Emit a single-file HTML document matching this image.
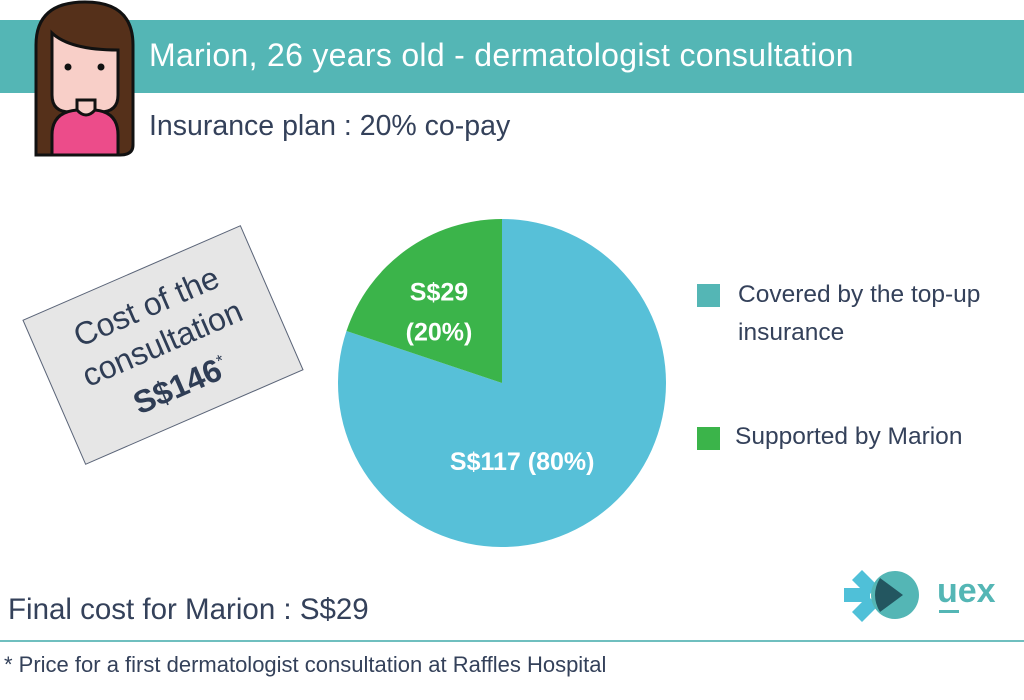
<!DOCTYPE html>
<html><head><meta charset="utf-8"><style>
body{margin:0;width:1024px;height:700px;background:#fff;overflow:hidden;position:relative;font-family:"Liberation Sans",sans-serif}
.abs{position:absolute}
</style></head><body>
<div class="abs" style="left:0;top:20px;width:1024px;height:73px;background:#54b6b5"></div>
<div class="abs" style="left:149px;top:37px;font-size:32px;color:#fff;white-space:nowrap;letter-spacing:0.3px">Marion, 26 years old - dermatologist consultation</div>
<div class="abs" style="left:149px;top:110px;font-size:28.5px;color:#34415a;white-space:nowrap">Insurance plan : 20% co-pay</div>
<svg class="abs" style="left:0;top:0" width="140" height="160">
<path d="M36,155 V45 Q36,2 85,2 Q133,2 133,45 V145 Q133,155 120,155 Z" fill="#55301a" stroke="#111" stroke-width="3"/>
<path d="M52,33 Q70,50 118,50 V95 Q118,112 100,112 H70 Q52,112 52,95 Z" fill="#f8cfc8" stroke="#111" stroke-width="3"/>
<rect x="77" y="100" width="18" height="18" fill="#f8cfc8" stroke="#111" stroke-width="3"/>
<path d="M52,155 V135 Q52,112 77,110 Q86,120 95,110 Q118,112 118,135 V155 Z" fill="#ec4c8a" stroke="#111" stroke-width="3"/>
<circle cx="68" cy="67" r="3.5" fill="#111"/><circle cx="101" cy="67" r="3.5" fill="#111"/>
</svg>
<div class="abs" style="left:44px;top:266px;width:238px;height:158px;background:#e6e6e6;border:1px solid #5a6478;transform:rotate(-23.5deg);box-sizing:border-box;text-align:center;color:#2f3d55;font-size:32px;line-height:40px;padding-top:16px">Cost of the<br>consultation<br><b>S$146</b><sup style="font-size:17px">*</sup></div>
<svg class="abs" style="left:0;top:0" width="1024" height="700" id="pie"></svg>
<div class="abs" style="left:697px;top:281px">
<div style="position:absolute;left:0;top:3px;width:23px;height:23px;background:#54b6b5"></div>
<div style="position:absolute;left:41px;top:-5px;font-size:24.5px;line-height:38px;color:#34415a;width:290px">Covered by the top-up<br>insurance</div></div>
<div class="abs" style="left:697px;top:425px">
<div style="position:absolute;left:0;top:2px;width:23px;height:23px;background:#3bb44a"></div>
<div style="position:absolute;left:38px;top:-2px;font-size:24.5px;color:#34415a;white-space:nowrap">Supported by Marion</div></div>
<div class="abs" style="left:8px;top:593px;font-size:29.5px;color:#34415a;white-space:nowrap">Final cost for Marion : S$29</div>
<svg class="abs" style="left:840px;top:560px" width="180" height="70">
<path d="M12,20 L22,10 L38,26 L28,36Z M4,28 H30 V42 H4Z M12,52 L28,36 L38,46 L22,62Z" fill="#4fc0d8"/>
<circle cx="55" cy="35" r="24" fill="#54b6b5"/>
<path d="M40,18 L63,35 L40,52 Q30,35 40,18Z" fill="#235660"/>
<text x="97" y="42" font-size="34" font-weight="bold" fill="#54b6b5" font-family="Liberation Sans">uex</text>
<rect x="99" y="50" width="20" height="3" fill="#54b6b5"/>
</svg>
<div class="abs" style="left:0;top:640px;width:1024px;height:2px;background:#6fbfbf"></div>
<div class="abs" style="left:4px;top:652px;font-size:22px;color:#34415a;white-space:nowrap">* Price for a first dermatologist consultation at Raffles Hospital</div>
<script>
const categories=["Covered by the top-up insurance","Supported by Marion"];
const values=[117,29];
const labels=["S$117 (80%)","S$29\n(20%)"];
const colors=["#57c0d8","#3bb44a"];
const svg=document.getElementById('pie');const NS="http://www.w3.org/2000/svg";
const cx=502,cy=383,r=164;const total=values.reduce((a,b)=>a+b,0);
let start=-Math.PI/2;
const angs=[];
const order=[1,0];let a=start;
order.forEach(i=>{const sweep=values[i]/total*2*Math.PI;angs[i]=[a-sweep,a];a-=sweep;});
[0,1].forEach(i=>{const [a0,a1]=angs[i];const large=(a1-a0)>Math.PI?1:0;
const p=document.createElementNS(NS,'path');
p.setAttribute('d',`M${cx},${cy} L${cx+r*Math.cos(a0)},${cy+r*Math.sin(a0)} A${r},${r} 0 ${large} 1 ${cx+r*Math.cos(a1)},${cy+r*Math.sin(a1)} Z`);
p.setAttribute('fill',colors[i]);


svg.appendChild(p);
const mid=(a0+a1)/2+(i==0?0.37:-0.1);const lr=i==0?r*0.49:r*0.58;
const lx=cx+lr*Math.cos(mid),ly=cy+lr*Math.sin(mid);
const t=document.createElementNS(NS,'text');


t.setAttribute('fill','#fff');t.setAttribute('font-size','25');t.setAttribute('font-weight','bold');t.setAttribute('text-anchor','middle');
const lines=labels[i].split('\n');
lines.forEach((s,k)=>{const ts=document.createElementNS(NS,'tspan');ts.setAttribute('x',lx);ts.setAttribute('y',ly+9+(k-(lines.length-1)/2)*40);ts.textContent=s;t.appendChild(ts);});
svg.appendChild(t);});
</script>
</body></html>
